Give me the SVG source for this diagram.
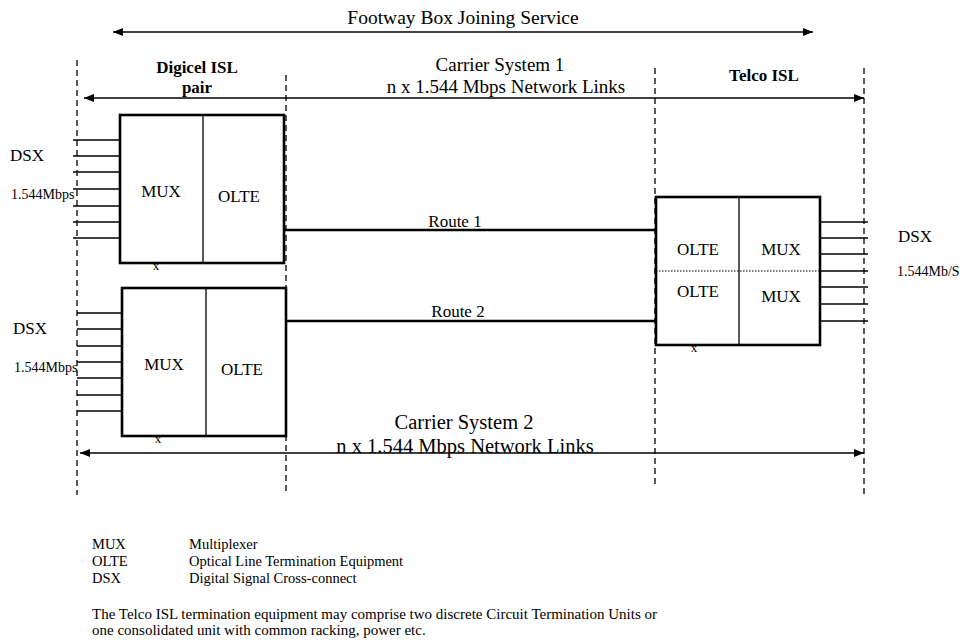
<svg xmlns="http://www.w3.org/2000/svg" width="970" height="644" viewBox="0 0 970 644">
<defs>
<marker id="ah" viewBox="0 0 10 8" refX="10" refY="4" markerWidth="10" markerHeight="8" markerUnits="userSpaceOnUse" orient="auto-start-reverse">
<path d="M0,0 L10,4 L0,8 Z" fill="#000"/>
</marker>
<style>
text{font-family:"Liberation Serif","Times New Roman",serif;fill:#000}
.t19{font-size:19.5px}
.t20{font-size:19px}
.t20b{font-size:20.5px}
.t17{font-size:17px}
.t14{font-size:14px}
.t15{font-size:15px}
.t16{font-size:14.5px}
.b{font-size:17px;font-weight:bold}
.mid{text-anchor:middle}
.dash{stroke:#000;stroke-width:1.3;stroke-dasharray:6,4;fill:none}
.box{fill:#fff;stroke:#000;stroke-width:2.6}
.thin{stroke:#000;stroke-width:1.3;fill:none}
.route{stroke:#000;stroke-width:2.6;fill:none}
.arr{stroke:#000;stroke-width:1.5;fill:none;marker-start:url(#ah);marker-end:url(#ah)}
.xm{font-size:13px}
</style>
</defs>
<rect width="970" height="644" fill="#fff"/>

<g id="boundaries">
<line class="dash" x1="77" y1="60" x2="77" y2="495"/>
<line class="dash" x1="286" y1="75" x2="286" y2="495"/>
<line class="dash" x1="655" y1="68" x2="655" y2="488"/>
<line class="dash" x1="864" y1="68" x2="864" y2="495"/>
</g>

<g id="connectors">
<line class="arr" x1="113" y1="32" x2="813" y2="32"/>
<line class="arr" x1="84" y1="98" x2="864" y2="98"/>
<line class="arr" x1="80" y1="453" x2="864" y2="453"/>
<line class="route" x1="284" y1="230" x2="656" y2="230"/>
<line class="route" x1="286" y1="321" x2="656" y2="321"/>
</g>

<g id="labels">
<text class="t19 mid" x="463" y="24">Footway Box Joining Service</text>
<text class="b mid" x="197" y="73">Digicel ISL</text>
<text class="b mid" x="197" y="93">pair</text>
<text class="t20 mid" x="500" y="71">Carrier System 1</text>
<text class="t20 mid" x="506" y="93">n x 1.544 Mbps Network Links</text>
<text class="b mid" x="764" y="81">Telco ISL</text>
<text class="t17 mid" x="455" y="227">Route 1</text>
<text class="t17 mid" x="458" y="317">Route 2</text>
<text class="t20b mid" x="464" y="429">Carrier System 2</text>
<text class="t20b mid" x="465" y="453">n x 1.544 Mbps Network Links</text>
</g>

<g id="digicel-isl-1">
<text class="xm mid" x="156" y="270">x</text>
<g class="thin">
<line x1="73" y1="140" x2="120" y2="140"/>
<line x1="73" y1="156" x2="120" y2="156"/>
<line x1="73" y1="172" x2="120" y2="172"/>
<line x1="73" y1="189" x2="120" y2="189"/>
<line x1="73" y1="206" x2="120" y2="206"/>
<line x1="73" y1="222" x2="120" y2="222"/>
<line x1="73" y1="238" x2="120" y2="238"/>
</g>
<rect class="box" x="120" y="115" width="164" height="148"/>
<line class="thin" x1="203" y1="115" x2="203" y2="263"/>
<text class="t17 mid" x="161" y="197">MUX</text>
<text class="t17 mid" x="239" y="202">OLTE</text>
<text class="t17" x="10" y="161">DSX</text>
<text class="t14" x="11" y="199">1.544Mbps</text>
</g>

<g id="digicel-isl-2">
<text class="xm mid" x="158" y="443">x</text>
<g class="thin">
<line x1="77" y1="313" x2="122" y2="313"/>
<line x1="77" y1="329" x2="122" y2="329"/>
<line x1="77" y1="346" x2="122" y2="346"/>
<line x1="77" y1="362" x2="122" y2="362"/>
<line x1="77" y1="378" x2="122" y2="378"/>
<line x1="77" y1="395" x2="122" y2="395"/>
<line x1="77" y1="411" x2="122" y2="411"/>
</g>
<rect class="box" x="122" y="288" width="164" height="148"/>
<line class="thin" x1="206" y1="288" x2="206" y2="436"/>
<text class="t17 mid" x="164" y="370">MUX</text>
<text class="t17 mid" x="242" y="375">OLTE</text>
<text class="t17" x="13" y="334">DSX</text>
<text class="t14" x="14" y="372">1.544Mbps</text>
</g>

<g id="telco-isl">
<text class="xm mid" x="694" y="352">x</text>
<g class="thin">
<line x1="820" y1="222" x2="868" y2="222"/>
<line x1="820" y1="238" x2="868" y2="238"/>
<line x1="820" y1="254" x2="868" y2="254"/>
<line x1="820" y1="271" x2="868" y2="271"/>
<line x1="820" y1="287" x2="868" y2="287"/>
<line x1="820" y1="304" x2="868" y2="304"/>
<line x1="820" y1="321" x2="868" y2="321"/>
</g>
<rect class="box" x="656" y="197" width="164" height="148"/>
<line class="thin" x1="739" y1="197" x2="739" y2="345"/>
<line x1="656" y1="271" x2="820" y2="271" stroke="#000" stroke-width="1" stroke-dasharray="1.5,1.5"/>
<text class="t17 mid" x="698" y="255">OLTE</text>
<text class="t17 mid" x="781" y="255">MUX</text>
<text class="t17 mid" x="698" y="297">OLTE</text>
<text class="t17 mid" x="781" y="302">MUX</text>
<text class="t17" x="898" y="242">DSX</text>
<text class="t14" x="897" y="276">1.544Mb/S</text>
</g>

<g id="legend">
<text class="t16" x="92" y="549">MUX</text>
<text class="t16" x="189" y="549">Multiplexer</text>
<text class="t16" x="92" y="566">OLTE</text>
<text class="t16" x="189" y="566">Optical  Line Termination Equipment</text>
<text class="t16" x="92" y="583">DSX</text>
<text class="t16" x="189" y="583">Digital Signal Cross-connect</text>
<text class="t15" x="92" y="619">The Telco ISL termination equipment may comprise two discrete Circuit Termination Units or</text>
<text class="t15" x="92" y="635">one consolidated unit with common racking, power etc.</text>
</g>
</svg>
